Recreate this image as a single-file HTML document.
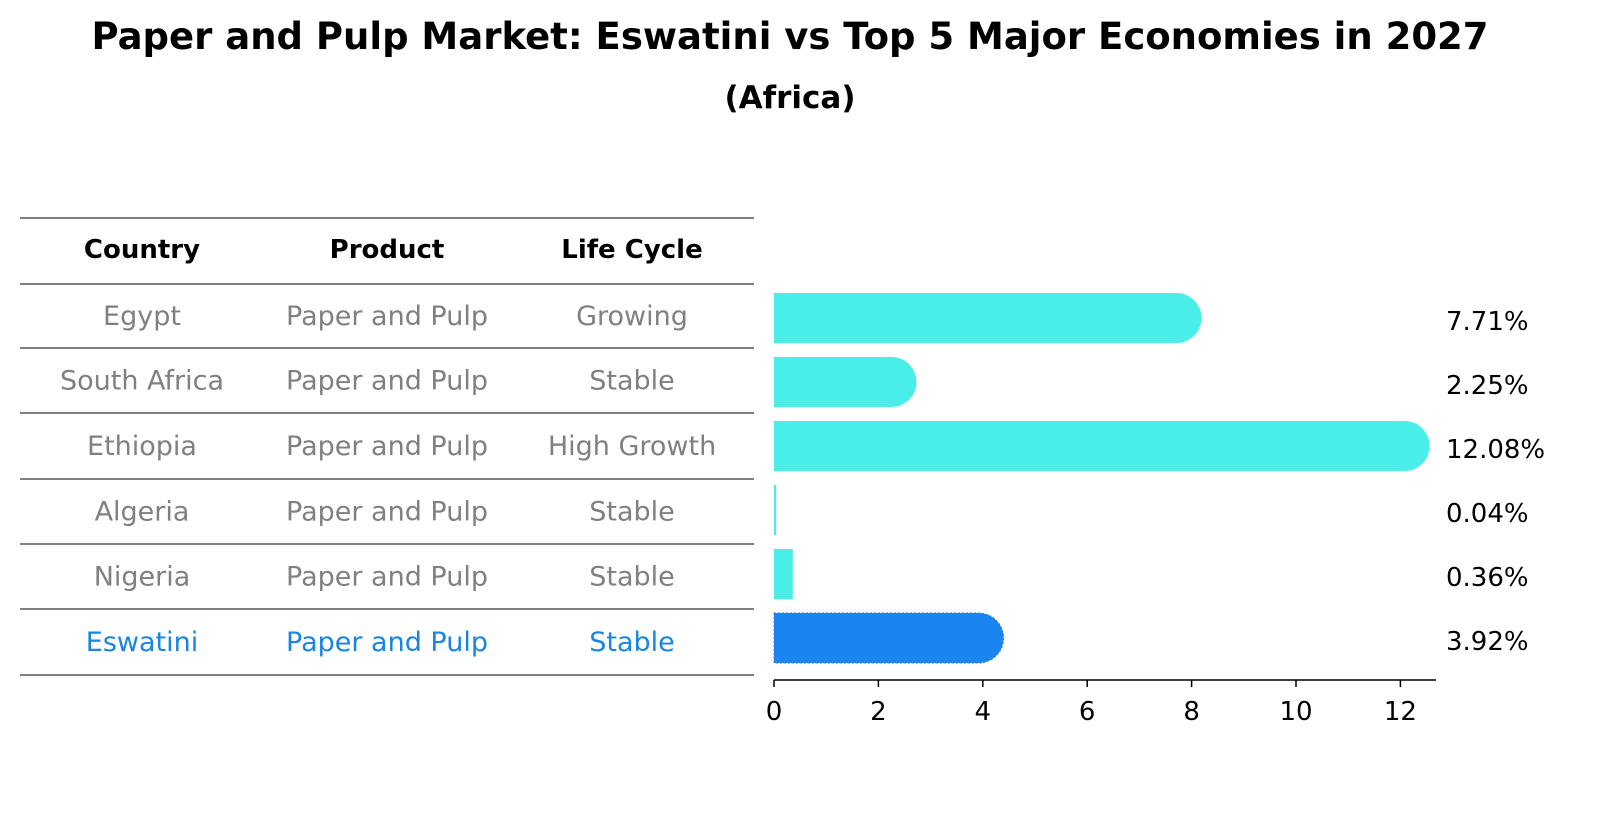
<!DOCTYPE html>
<html><head><meta charset="utf-8"><style>
body{margin:0;background:#fff;}
svg text{font-family:"DejaVu Sans","Liberation Sans",sans-serif;}
</style></head><body>
<svg width="1604" height="823" xmlns="http://www.w3.org/2000/svg">
<text x="790" y="49" text-anchor="middle" font-size="37" font-weight="bold">Paper and Pulp Market: Eswatini vs Top 5 Major Economies in 2027</text>
<text x="790" y="108" text-anchor="middle" font-size="31" font-weight="bold">(Africa)</text>
<g id="table"></g>
<g id="bars"></g>
</svg>
<script>
const countries=["Egypt","South Africa","Ethiopia","Algeria","Nigeria","Eswatini"];
const products=["Paper and Pulp","Paper and Pulp","Paper and Pulp","Paper and Pulp","Paper and Pulp","Paper and Pulp"];
const lifeCycles=["Growing","Stable","High Growth","Stable","Stable","Stable"];
const values=[7.71,2.25,12.08,0.04,0.36,3.92];
const ticks=[0,2,4,6,8,10,12];
const NS="http://www.w3.org/2000/svg";
function mk(tag,attrs,parent,text){const e=document.createElementNS(NS,tag);for(const k in attrs)e.setAttribute(k,attrs[k]);if(text!==undefined)e.textContent=text;parent.appendChild(e);return e;}
const tbl=document.getElementById('table');
const lineYs=[218,284,348,413,479,544,609,675];
lineYs.forEach((y,i)=>{const l=mk('line',{x1:20,x2:754,y1:y,y2:y,stroke:'#000','stroke-width':1},tbl);

});
const colX=[142,387,632];
["Country","Product","Life Cycle"].forEach((h,i)=>{const t=mk('text',{x:colX[i],y:258,'text-anchor':'middle','font-size':26,'font-weight':'bold'},tbl,h);

});
const rowY=i=>(lineYs[i+1]+lineYs[i+2])/2+9;
countries.forEach((c,i)=>{const col=c==="Eswatini"?'#1a84e0':'#808080';
[c,products[i],lifeCycles[i]].forEach((v,j)=>{const t=mk('text',{x:colX[j],y:rowY(i),'text-anchor':'middle','font-size':27,fill:col},tbl,v);

});});
const g=document.getElementById('bars');
const x0=774,pxu=52.2;
const xs=v=>x0+v*pxu;
const cy=i=>318+i*64;
const h=50,r=25;
values.forEach((v,i)=>{const isE=countries[i]==="Eswatini";const fill=isE?'#1a84f0':'#4aeee8';
const w=xs(v)-x0;
let p;
if(v>1){p=mk('path',{d:`M${x0},${cy(i)-r} H${x0+w} A${r},${r} 0 0 1 ${x0+w},${cy(i)+r} H${x0} Z`,fill:fill},g);}
else{p=mk('rect',{x:x0,y:cy(i)-r,width:Math.max(w,1.5),height:h,fill:fill},g);}
if(isE){p.setAttribute('stroke','#3a7fd0');p.setAttribute('stroke-dasharray','2,2');p.setAttribute('stroke-width','1');}


const t=mk('text',{x:1446,y:cy(i)+12,'font-size':26},g,v.toFixed(2)+'%');

});
const ax=mk('line',{x1:x0,x2:1436,y1:680,y2:680,stroke:'#000','stroke-width':1.5},g);


ticks.forEach(tv=>{const l=mk('line',{x1:xs(tv),x2:xs(tv),y1:680,y2:687,stroke:'#000','stroke-width':1.5},g);


const t=mk('text',{x:xs(tv),y:720,'text-anchor':'middle','font-size':26},g,tv);

});
</script>
</body></html>
